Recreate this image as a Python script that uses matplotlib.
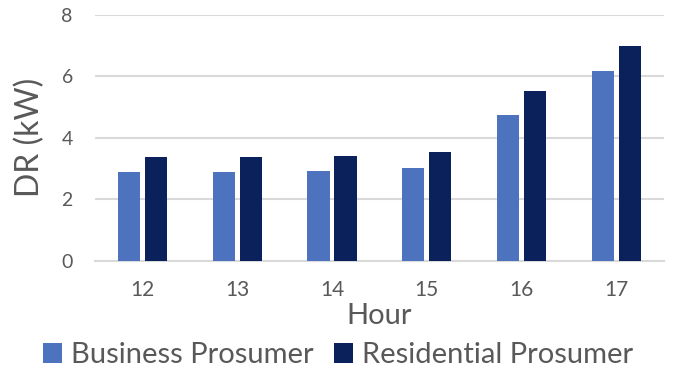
import numpy as np
import matplotlib
matplotlib.use("Agg")
import matplotlib.pyplot as plt

plt.rcParams['font.family'] = ['Lato', 'DejaVu Sans']

hours = ['12', '13', '14', '15', '16', '17']
business = [2.88, 2.88, 2.92, 3.01, 4.74, 6.17]
residential = [3.37, 3.37, 3.40, 3.54, 5.52, 6.98]

text_color = '#595959'
business_color = '#4E73BE'
residential_color = '#0A215B'

fig = plt.figure(figsize=(6.76, 3.76), dpi=100)
ax = fig.add_axes([0.1405, 0.3066, 0.8415, 0.6544])

x = np.arange(len(hours))
width = 0.235
ax.bar(x - 0.142, business, width, color=business_color, label='Business Prosumer', zorder=3)
ax.bar(x + 0.142, residential, width, color=residential_color, label='Residential Prosumer', zorder=3)

ax.set_xlim(-0.5, len(hours) - 0.5)
ax.set_ylim(0, 8)
ax.set_yticks([0, 2, 4, 6, 8])
ax.set_xticks(x)
ax.set_xticklabels(hours)
ax.yaxis.grid(True, color='#D9D9D9', linewidth=1.5, zorder=0)
ax.set_axisbelow(True)
for s in ['top', 'right', 'left']:
    ax.spines[s].set_visible(False)
ax.spines['bottom'].set_color('#D9D9D9')
ax.spines['bottom'].set_linewidth(1.5)
ax.tick_params(axis='both', length=0, colors=text_color)
ax.tick_params(axis='x', labelsize=15, pad=14)
ax.tick_params(axis='y', labelsize=14, pad=16)

ax.set_xlabel('Hour', fontsize=21, color=text_color, labelpad=2)
ax.set_ylabel('DR (kW)', fontsize=23, color=text_color, labelpad=12)

fig.legend(loc='center', bbox_to_anchor=(0.5, 0.055), ncol=2, frameon=False,
           fontsize=21, labelcolor=text_color, handlelength=0.65, handleheight=0.65,
           handletextpad=0.3, columnspacing=0.7)

fig.savefig('out.png', dpi=100)
